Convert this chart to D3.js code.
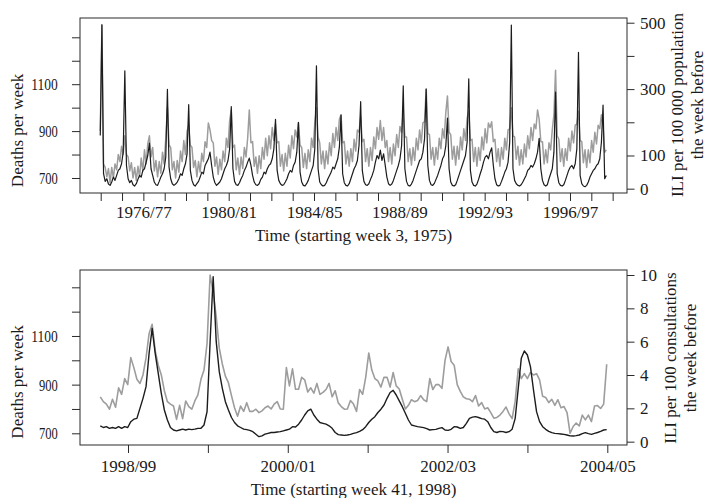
<!DOCTYPE html>
<html><head><meta charset="utf-8">
<script src="https://cdn.jsdelivr.net/npm/d3@7"></script>
<style>
body{margin:0;background:#fff}
svg text{font-family:"Liberation Serif","Times New Roman",serif;fill:#1a1a1a}
</style>
</head><body>
<svg id="c" width="707" height="498"></svg>
<script>
// ---------- DATA ----------
// Top panel: 4-weekly samples from week 3, 1975
const topILI = [
160,494,45,22,30,14,10,20,35,25,40,55,60,75,110,
355,70,30,18,25,12,8,15,28,40,35,55,60,80,100,
137,
60,40,20,12,10,22,35,45,60,95,
299,
65,30,15,10,14,20,30,45,40,60,75,105,
253,
55,25,12,8,15,22,35,50,45,70,80,90,
110,
70,35,18,10,15,20,30,45,60,70,85,120,
247,
60,22,12,10,18,30,40,55,65,80,
92,
70,40,20,12,10,15,28,35,50,45,60,70,75,90,120,
209,
55,25,15,10,12,20,30,45,55,50,70,80,110,
200,
50,20,10,8,15,25,40,55,70,120,
370,
60,20,12,8,10,18,30,40,50,65,60,75,90,125,
222,
45,18,10,8,15,30,45,60,70,85,130,
262,
55,22,12,10,15,28,40,55,80,100,90,
116,85,105,70,35,15,10,14,25,40,55,70,90,130,
310,
60,22,10,8,14,25,40,55,70,85,90,110,150,
300,
70,25,12,10,16,28,40,55,70,90,100,130,
213,
60,20,10,8,12,25,40,55,70,85,100,140,
331,
55,20,10,8,14,28,45,60,80,95,100,90,110,
123,
70,30,12,8,10,22,35,50,60,80,140,
493,
60,25,15,10,8,12,20,30,40,55,60,70,65,75,90,110,
152,
60,25,12,8,12,30,45,60,110,
291,
45,18,10,8,12,25,40,55,65,70,60,75,120,
411,
40,15,8,6,10,20,35,45,55,60,70,75,90,140,
252,
30,40
];
const topDeaths = [
900,1350,760,745,705,740,680,745,700,760,735,800,770,835,800,
880,800,790,730,765,700,745,690,750,705,785,730,820,760,845,
880,
790,830,730,775,705,770,720,810,760,870,
1000,
840,830,735,770,700,775,725,815,770,860,800,900,
925,
840,830,745,775,705,770,725,805,770,855,830,935,
905,
860,850,750,790,715,780,735,815,770,870,830,945,
990,
830,840,735,785,715,790,740,830,790,870,
990,
850,855,750,790,720,795,740,830,780,870,795,880,825,915,860,
930,
850,855,750,800,730,805,750,840,785,880,825,905,875,
935,
840,830,745,805,740,820,770,870,830,935,
1000,
875,850,760,815,740,815,760,850,795,890,830,915,860,950,
970,
850,855,760,815,750,825,770,865,815,905,895,
960,
855,865,770,825,750,830,775,875,825,915,865,
945,860,915,830,860,770,830,760,845,795,885,830,920,895,
990,
875,875,770,825,755,830,775,870,820,905,850,935,940,
1080,
890,885,780,830,755,830,780,870,825,910,870,980,
1050,
895,885,780,835,755,835,780,875,820,910,860,955,
985,
860,865,770,830,750,830,775,875,820,910,850,935,915,
940,
855,865,770,825,750,830,780,870,820,905,910,
1000,
880,875,780,835,755,820,760,845,790,880,825,915,860,930,910,990,
950,
855,855,760,820,765,850,820,905,970,
1160,
880,865,770,825,750,825,775,870,815,900,850,925,930,
985,
860,855,765,820,745,820,765,860,810,895,845,925,910,970,
920,
810,820
];
// Bottom panel: 2-weekly samples from week 41, 1998
const botDeaths = [
850,830,820,799,840,807,887,860,925,900,
1011,970,922,905,940,1010,1110,1148,1040,980,
940,875,830,820,812,757,815,760,833,810,
799,833,858,922,960,1070,1350,1280,1180,1050,
985,935,908,855,805,770,812,790,826,790,
790,799,785,792,805,812,800,820,830,800,
799,970,895,965,881,881,930,920,870,887,
865,905,860,868,880,905,850,875,825,810,
799,800,835,820,790,880,860,930,1030,960,
925,915,890,930,930,890,950,895,882,840,
800,815,838,830,835,855,838,830,925,880,
900,900,885,1000,1055,995,980,900,872,850,
842,840,830,855,812,826,800,805,785,762,
765,775,790,808,780,760,832,965,925,945,
925,950,940,945,920,852,847,826,840,815,
838,805,810,785,700,728,742,730,775,755,
775,748,812,814,802,820,984
];
const botILI = [
0.95,0.85,0.9,0.8,0.85,0.8,0.9,0.8,0.9,0.85,
1.2,1.35,1.4,2.0,2.6,3.3,5.3,6.8,5.3,4.1,
2.9,1.9,1.3,0.85,0.7,0.65,0.7,0.75,0.7,0.75,
0.72,0.75,0.8,0.8,1.0,1.8,6.0,9.9,6.0,4.2,
3.2,2.4,1.9,1.45,1.15,0.95,0.85,0.75,0.72,0.68,
0.6,0.45,0.3,0.35,0.45,0.5,0.55,0.55,0.58,0.6,
0.65,0.7,0.75,0.9,0.88,1.05,1.3,1.6,1.85,1.95,
1.6,1.35,1.15,1.1,1.05,0.95,0.8,0.55,0.42,0.4,
0.38,0.4,0.44,0.5,0.54,0.62,0.72,0.9,1.15,1.35,
1.5,1.75,1.95,2.2,2.6,2.95,3.08,2.8,2.45,2.1,
1.7,1.3,1.0,0.95,0.9,0.87,0.84,0.78,0.7,0.72,
0.74,0.8,0.84,0.7,0.68,0.74,0.9,0.88,0.8,0.85,
1.1,1.4,1.47,1.5,1.45,1.38,1.35,1.2,0.85,0.6,
0.55,0.62,0.6,0.55,0.6,0.75,1.4,3.2,5.0,5.44,
5.2,4.5,3.1,1.8,1.2,0.9,0.74,0.62,0.54,0.5,
0.48,0.46,0.44,0.4,0.35,0.34,0.36,0.4,0.48,0.54,
0.48,0.44,0.5,0.55,0.62,0.7,0.72
];
const topSeasonLabels = ["","","1976/77","","","","1980/81","","","","1984/85","","","","1988/89","","","","1992/93","","","","1996/97","",""];
const botSeasonLabels = ["1998/99","","2000/01","","2002/03","","2004/05"];
const deathTicks = [700,800,900,1000,1100,1200,1300];
const deathLabeled = [700,900,1100];
const topILITicks = [0,100,200,300,400,500];
const topILILabeled = [0,100,300,500];
const botILITicks = [0,2,4,6,8,10];
const botILILabeled = [0,2,4,6,8,10];

// ---------- DRAW ----------
const FONT = "'Liberation Serif','Times New Roman',serif";
const svg = d3.select("#c").attr("font-family", FONT);
const L = 80, R = 627;
const GREY = "#9d9d9d", BLACK = "#1c1c1c", AX = "#2a2a2a";

function panel(cfg){
  const g = svg.append("g");
  const x = d3.scaleLinear().domain(cfg.xDomain).range([L, R]);
  const yL = d3.scaleLinear().domain(cfg.deathDomain).range([cfg.bottom, cfg.top]);
  const yR = d3.scaleLinear().domain(cfg.iliDomain).range([cfg.bottom, cfg.top]);
  const cid = "clip" + cfg.id;
  svg.append("clipPath").attr("id", cid).append("rect")
    .attr("x", L).attr("y", cfg.top).attr("width", R - L).attr("height", cfg.bottom - cfg.top);
  const lines = g.append("g").attr("clip-path", `url(#${cid})`);
  lines.append("path").datum(cfg.deaths)
    .attr("d", d3.line().x((d,i)=>x(cfg.start + i*cfg.step)).y(d=>yL(d)))
    .attr("fill","none").attr("stroke",GREY).attr("stroke-width",cfg.gw).attr("stroke-linejoin","round");
  lines.append("path").datum(cfg.ili)
    .attr("d", d3.line().x((d,i)=>x(cfg.start + i*cfg.step)).y(d=>yR(d)))
    .attr("fill","none").attr("stroke",BLACK).attr("stroke-width",cfg.bw).attr("stroke-linejoin","round");
  g.append("rect").attr("x",L).attr("y",cfg.top).attr("width",R-L).attr("height",cfg.bottom-cfg.top)
    .attr("fill","none").attr("stroke",AX).attr("stroke-width",1);

  // left axis
  const la = g.append("g").attr("transform",`translate(${L},0)`)
    .call(d3.axisLeft(yL).tickValues(deathTicks).tickSize(8).tickPadding(14.2)
      .tickFormat(d => deathLabeled.includes(d) ? String(d) : ""));
  la.attr("font-family", FONT).attr("font-size", 17);
  la.select(".domain").remove();
  la.selectAll("line").attr("stroke",AX);
  la.selectAll("text").attr("fill","#1a1a1a")
    .each(function(d){ const t = String(d); if (deathLabeled.includes(d)) d3.select(this).attr("textLength", t.length===4?26.5:18.8).attr("lengthAdjust","spacingAndGlyphs"); });

  // right axis
  const ra = g.append("g").attr("transform",`translate(${R},0)`)
    .call(d3.axisRight(yR).tickValues(cfg.iliTicks).tickSize(7.5).tickPadding(5.5)
      .tickFormat(d => cfg.iliLabeled.includes(d) ? String(d) : ""));
  ra.attr("font-family", FONT).attr("font-size", 17);
  ra.select(".domain").remove();
  ra.selectAll("line").attr("stroke",AX);
  ra.selectAll("text").attr("fill","#1a1a1a");

  // bottom axis
  const tickPos = cfg.labels.map((l,k)=>cfg.tick0 + k*cfg.tickStep);
  const ba = g.append("g").attr("transform",`translate(0,${cfg.bottom})`)
    .call(d3.axisBottom(x).tickValues(tickPos).tickSize(8).tickPadding(cfg.tpad)
      .tickFormat((d,i)=>cfg.labels[i]));
  ba.attr("font-family", FONT).attr("font-size", 17);
  ba.select(".domain").remove();
  ba.selectAll("line").attr("stroke",AX);
  ba.selectAll("text").attr("fill","#1a1a1a");

  // titles
  g.append("text").attr("x",353.5).attr("y",cfg.xTitleY).attr("text-anchor","middle")
    .attr("font-size",17).text(cfg.xTitle);
  g.append("text").attr("transform",`translate(22.5,${cfg.yTitleC}) rotate(-90)`)
    .attr("text-anchor","middle").attr("font-size",17).text("Deaths per week");
  cfg.rTitle.forEach((t,k)=>{
    g.append("text").attr("transform",`translate(${cfg.rTitleX[k]},${cfg.rTitleC}) rotate(-90)`)
      .attr("text-anchor","middle").attr("font-size",17).text(t);
  });
}

panel({
  id:"top", top:18, bottom:193,
  xDomain:[-49.5,1286.5], start:0, step:4,
  deathDomain:[636,1382.3], iliDomain:[-13,514.2],
  deaths:topDeaths, ili:topILI,
  iliTicks:topILITicks, iliLabeled:topILILabeled,
  labels:topSeasonLabels, tick0:1.06, tickStep:52.1, tpad:5.2,
  gw:1.5, bw:1.2,
  xTitle:"Time (starting week 3, 1975)", xTitleY:240.5, yTitleC:130.5,
  rTitle:["ILI per 100 000 population","the week before"], rTitleX:[683,703], rTitleC:105
});
panel({
  id:"bot", top:270, bottom:445,
  xDomain:[-13.3,345.3], start:0, step:2,
  deathDomain:[651.9,1371.2], iliDomain:[-0.2,10.3],
  deaths:botDeaths, ili:botILI,
  iliTicks:botILITicks, iliLabeled:botILILabeled,
  labels:botSeasonLabels, tick0:18.17, tickStep:52.37, tpad:6.6,
  gw:1.6, bw:1.4,
  xTitle:"Time (starting week 41, 1998)", xTitleY:494.5, yTitleC:382,
  rTitle:["ILI per 100 consultations","the week before"], rTitleX:[675.5,696], rTitleC:358
});
</script>
</body></html>
